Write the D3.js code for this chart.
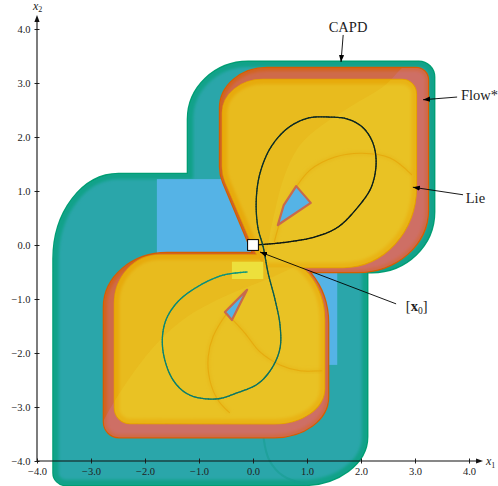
<!DOCTYPE html>
<html>
<head>
<meta charset="utf-8">
<script src="https://cdn.jsdelivr.net/npm/d3@7"></script>
<style>
  html, body { margin: 0; padding: 0; background: #fff; }
  svg { display: block; }
  text { font-family: "Liberation Serif", "DejaVu Serif", serif; fill: #222; }
</style>
</head>
<body>
<svg id="chart" width="498" height="486"></svg>
<script>
// ---- axis ticks ----
const xTicks = [-4, -3, -2, -1, 0, 1, 2, 3, 4];
const yTicks = [-4, -3, -2, -1, 0, 1, 2, 3, 4];

// ---- enclosures: vertices [x1, x2, corner radius along incoming edge, along outgoing edge] ----
const capdOutline = [
  [-1.20, 1.31, 0],
  [-1.20, 3.39, 1.06, 1.11],
  [3.35, 3.39, 0.28],
  [3.35, -0.50, 1.11, 1.15],
  [2.11, -0.50, 0],
  [2.11, -4.44, 0.89, 1.20],
  [-3.69, -4.44, 0.22],
  [-3.69, 1.31, 1.57, 1.20]
];
const capdInnerArc = [[0.19, -3.10], [0.20, -3.60], [0.30, -3.98], [0.55, -4.27], [1.00, -4.44]];

const boxRegion = [[-1.78, 1.22], [1.56, -2.22]];

const flowUpper = [
  [-0.61, 1.30, 0.15],
  [-0.61, 3.28, 0.74, 0.87],
  [3.24, 3.28, 0.22],
  [3.24, -0.50, 1.15, 1.30],
  [0.17, -0.50, 0],
  [-0.04, -0.06, 0]
];
const flowLower = [
  [-2.76, -3.56, 0.28],
  [-2.76, -0.15, 1.00, 1.17],
  [1.39, -0.15, 1.10, 1.30],
  [1.39, -3.56, 0.74, 1.00]
];
const lieUpper = [
  [-0.56, 1.30, 0.15],
  [-0.56, 3.06, 0.61, 0.74],
  [3.02, 3.06, 0.26],
  [3.02, -0.41, 1.48, 1.35],
  [0.20, -0.41, 0],
  [0.02, -0.06, 0]
];
const lieLower = [
  [-2.56, -3.30, 0.28],
  [-2.56, -0.19, 0.89, 0.83],
  [1.32, -0.19, 1.00, 1.20],
  [1.32, -3.31, 0.65, 0.93]
];

// gaps left uncovered by Lie and Flow*
const holeUpper = [[0.46, 0.37], [0.57, 0.74], [0.80, 1.09], [1.07, 0.78]];
const holeLower = [[-0.11, -0.83], [-0.52, -1.24], [-0.39, -1.39]];

// lighter sweep inside each lobe
const lensUpper = [[2.91, 3.39], [2.41, 2.93], [1.80, 2.56], [1.24, 2.19], [0.87, 1.85], [0.59, 1.30],
                   [0.41, 0.65], [0.28, 0.00], [0.22, -0.83], [3.56, -0.83], [3.56, 3.52]];
const lensLower = [[-2.76, -3.24], [-2.22, -2.37], [-1.72, -1.76], [-1.22, -1.33], [-0.67, -1.02],
                   [-0.24, -0.83], [0.32, -0.61], [0.87, -0.37], [1.52, -0.19], [1.61, -3.70], [-2.93, -3.70]];

// internal seams of the Lie enclosure
const domeArc = [[0.39, 0.04], [0.56, 0.61], [0.74, 0.98], [1.06, 1.39], [1.52, 1.63], [2.02, 1.70], [2.54, 1.61], [2.94, 1.30]];
const lowerArcA = [[-0.11, -0.83], [-0.48, -1.26], [-0.74, -1.70], [-0.83, -2.07], [-0.80, -2.50], [-0.65, -2.87], [-0.43, -3.11]];
const lowerArcB = [[-0.37, -1.39], [-0.15, -1.63], [0.13, -1.98], [0.50, -2.22], [0.87, -2.33], [1.28, -2.33]];

// final-time box
const finalBox = [[-0.39, -0.31], [0.19, -0.63]];
// initial box [x0]
const initBox = [[-0.10, 0.10], [-0.10, 0.10]];

// reference trajectory starting in [x0]
const traj = [
  [0.00, 0.00], [0.52, 0.04], [1.15, 0.15], [1.57, 0.33], [1.94, 0.70], [2.19, 1.07], [2.28, 1.52],
  [2.22, 1.89], [2.04, 2.17], [1.76, 2.33], [1.39, 2.37], [1.02, 2.35], [0.65, 2.17], [0.33, 1.81],
  [0.13, 1.33], [0.06, 0.83], [0.09, 0.33], [0.19, -0.04], [0.28, -0.52], [0.41, -1.02], [0.50, -1.48],
  [0.50, -1.91], [0.35, -2.28], [0.09, -2.57], [-0.30, -2.74], [-0.67, -2.85], [-1.17, -2.78],
  [-1.48, -2.50], [-1.67, -1.94], [-1.63, -1.44], [-1.41, -1.07], [-1.04, -0.78], [-0.56, -0.56], [-0.11, -0.50]
];

// labels with leader arrows: text anchor point, arrow start, arrow tip
const annotations = [
  { label: "CAPD",  anchor: "middle", at: [1.76, 3.95], from: [1.67, 3.89], to: [1.63, 3.39] },
  { label: "Flow*", anchor: "start",  at: [3.85, 2.69], from: [3.78, 2.74], to: [3.15, 2.69] },
  { label: "Lie",   anchor: "start",  at: [3.94, 0.78], from: [3.89, 0.93], to: [2.96, 1.07] },
  { label: "x0",    anchor: "start",  at: [2.83, -1.22], from: [2.65, -1.09], to: [0.13, -0.13] }
];

// ---- drawing ----
const svg = d3.select("#chart");
const x = d3.scaleLinear().domain([-4, 4]).range([37, 469]);
const y = d3.scaleLinear().domain([-4, 4]).range([461, 29]);
const k = x(1) - x(0);
const defs = svg.append("defs");

function roundedPath(pts) {
  const P = pts.map(p => [x(p[0]), y(p[1])]);
  const n = P.length;
  let d = "";
  for (let i = 0; i < n; i++) {
    const prev = P[(i - 1 + n) % n], cur = P[i], next = P[(i + 1) % n];
    const rIn = (pts[i][2] || 0) * k;
    const rOut = (pts[i][3] !== undefined ? pts[i][3] : (pts[i][2] || 0)) * k;
    const li = Math.hypot(cur[0] - prev[0], cur[1] - prev[1]);
    const lo = Math.hypot(next[0] - cur[0], next[1] - cur[1]);
    const ui = [(cur[0] - prev[0]) / li, (cur[1] - prev[1]) / li];
    const uo = [(next[0] - cur[0]) / lo, (next[1] - cur[1]) / lo];
    const a = [cur[0] - ui[0] * rIn, cur[1] - ui[1] * rIn];
    const b = [cur[0] + uo[0] * rOut, cur[1] + uo[1] * rOut];
    d += (i === 0 ? "M" : "L") + a[0].toFixed(2) + "," + a[1].toFixed(2);
    if (rIn > 0 || rOut > 0) {
      const c1 = [a[0] + ui[0] * rIn * 0.552, a[1] + ui[1] * rIn * 0.552];
      const c2 = [b[0] - uo[0] * rOut * 0.552, b[1] - uo[1] * rOut * 0.552];
      d += "C" + c1[0].toFixed(2) + "," + c1[1].toFixed(2) + " " + c2[0].toFixed(2) + "," + c2[1].toFixed(2) +
           " " + b[0].toFixed(2) + "," + b[1].toFixed(2);
    }
  }
  return d + "Z";
}

let clipCount = 0;
function clipFor(d) {
  const id = "clip" + (clipCount++);
  defs.append("clipPath").attr("id", id).append("path").attr("d", d);
  return "url(#" + id + ")";
}

const polyLine = d3.line().x(p => x(p[0])).y(p => y(p[1]));
const smoothLine = d3.line().x(p => x(p[0])).y(p => y(p[1])).curve(d3.curveCatmullRom.alpha(0.5));
const smoothClosed = d3.line().x(p => x(p[0])).y(p => y(p[1])).curve(d3.curveCatmullRomClosed.alpha(0.5));

// soft blur used for the inner rims of the enclosures
const soft = defs.append("filter").attr("id", "soft").attr("x", "-5%").attr("y", "-5%").attr("width", "110%").attr("height", "110%");
soft.append("feGaussianBlur").attr("stdDeviation", 1.6);

// draw an enclosure layer: outer edge, fill, soft inner rim
function drawLayer(outlines, style) {
  const g = svg.append("g");
  const ds = outlines.map(roundedPath);
  ds.forEach(d => g.append("path").attr("d", d).attr("fill", "none")
    .attr("stroke", style.edge).attr("stroke-width", style.edgeW).attr("stroke-linejoin", "round"));
  ds.forEach(d => {
    g.append("path").attr("d", d).attr("fill", style.fill);
    g.append("g").attr("clip-path", clipFor(d))
      .append("path").attr("d", d).attr("fill", "none").attr("stroke", style.rim)
      .attr("stroke-width", style.rimW).attr("stroke-opacity", style.rimO).attr("filter", "url(#soft)");
  });
  return ds;
}

// CAPD
const capdD = drawLayer([capdOutline], { edge: "#009E73", edgeW: 3, fill: "#2aa6aa", rim: "#009E73", rimW: 10, rimO: 0.6 });
svg.append("path").attr("d", smoothLine(capdInnerArc)).attr("fill", "none")
  .attr("stroke", "#139c8e").attr("stroke-width", 2).attr("stroke-opacity", 0.5);

// initial-condition region
svg.append("rect")
  .attr("x", x(boxRegion[0][0])).attr("y", y(boxRegion[0][1]))
  .attr("width", x(boxRegion[1][0]) - x(boxRegion[0][0]))
  .attr("height", y(boxRegion[1][1]) - y(boxRegion[0][1]))
  .attr("fill", "#55b3e6");

// Flow*
const flowD = drawLayer([flowLower, flowUpper], { edge: "#D55E00", edgeW: 2.5, fill: "#cf6a4a", rim: "#d55e00", rimW: 6, rimO: 0.6 });
[[lensUpper, flowD[1]], [lensLower, flowD[0]]].forEach(([lens, d]) => {
  svg.append("path").attr("d", smoothClosed(lens)).attr("fill", "#cc79a7").attr("fill-opacity", 0.3)
    .attr("clip-path", clipFor(d));
});

// Lie
const lieD = drawLayer([lieLower, lieUpper], { edge: "#E69F00", edgeW: 2, fill: "#e8bb1e", rim: "#e69f00", rimW: 9, rimO: 0.6 });
[[lensUpper, lieD[1]], [lensLower, lieD[0]]].forEach(([lens, d]) => {
  svg.append("path").attr("d", smoothClosed(lens)).attr("fill", "#f0e442").attr("fill-opacity", 0.16)
    .attr("clip-path", clipFor(d));
});
// internal seams
const seamClipUpper = clipFor(lieD[1]);
const seamClipLower = clipFor(lieD[0]);
[[domeArc, seamClipUpper], [lowerArcA, seamClipLower], [lowerArcB, seamClipLower]].forEach(([arc, clip]) => {
  const g = svg.append("g").attr("clip-path", clip);
  g.append("path").attr("d", smoothLine(arc)).attr("fill", "none")
    .attr("stroke", "#e69f00").attr("stroke-width", 5).attr("stroke-opacity", 0.18).attr("filter", "url(#soft)");
  g.append("path").attr("d", smoothLine(arc)).attr("fill", "none")
    .attr("stroke", "#e39a00").attr("stroke-width", 1.1).attr("stroke-opacity", 0.55);
});

// uncovered gaps
[holeUpper, holeLower].forEach(h => {
  svg.append("path").attr("d", polyLine(h) + "Z").attr("fill", "#55b3e6")
    .attr("stroke", "#c86a4c").attr("stroke-width", 2.2).attr("stroke-linejoin", "round");
});

// final box
svg.append("rect")
  .attr("x", x(finalBox[0][0])).attr("y", y(finalBox[0][1]))
  .attr("width", x(finalBox[1][0]) - x(finalBox[0][0]))
  .attr("height", y(finalBox[1][1]) - y(finalBox[0][1]))
  .attr("fill", "#ede03c");

// trajectory, coloured by time
const trajPath = svg.append("path").attr("d", smoothLine(traj)).attr("fill", "none").attr("stroke", "none");
const node = trajPath.node();
const total = node.getTotalLength();
const N = 500;
const samples = d3.range(N + 1).map(i => node.getPointAtLength(total * i / N));
const timeColour = d3.scaleLinear().domain([0, 0.45, 0.6, 1])
  .range(["#0b1513", "#0b302b", "#0b6a5b", "#0a9580"]).interpolate(d3.interpolateRgb);
const trajG = svg.append("g");
for (let i = 0; i < N; i++) {
  trajG.append("line")
    .attr("x1", samples[i].x).attr("y1", samples[i].y)
    .attr("x2", samples[i + 1].x).attr("y2", samples[i + 1].y)
    .attr("stroke", timeColour(i / N)).attr("stroke-width", 1.3).attr("stroke-linecap", "round");
}

// initial box [x0]
svg.append("rect")
  .attr("x", x(initBox[0][0])).attr("y", y(initBox[1][1]))
  .attr("width", x(initBox[0][1]) - x(initBox[0][0]))
  .attr("height", y(initBox[1][0]) - y(initBox[1][1]))
  .attr("fill", "#fff").attr("stroke", "#000").attr("stroke-width", 1);

// ---- axes ----
const fmt = d3.format(".1f");
const axisG = svg.append("g");
const xAxis = d3.axisBottom(x).tickValues(xTicks).tickFormat(fmt).tickSizeInner(2.5).tickSizeOuter(0).tickPadding(4);
const yAxis = d3.axisLeft(y).tickValues(yTicks).tickFormat(fmt).tickSizeInner(2.5).tickSizeOuter(0).tickPadding(4);
const gx = axisG.append("g").attr("transform", "translate(0," + y(-4) + ")").call(xAxis);
const gy = axisG.append("g").attr("transform", "translate(" + x(-4) + ",0)").call(yAxis);
[gx, gy].forEach(g => {
  g.attr("font-family", null);
  g.select(".domain").remove();
  g.selectAll("text").style("font-family", "'Liberation Serif', serif").style("font-size", "10.5px").attr("fill", "#333");
  g.selectAll("line").attr("stroke", "#222");
});
gx.selectAll(".tick line").attr("y1", -2.5);
gy.selectAll(".tick line").attr("x1", 2.5);

const xEnd = 4.26, yEnd = 4.26;
axisG.append("line").attr("x1", x(-4)).attr("y1", y(-4)).attr("x2", x(xEnd) - 4).attr("y2", y(-4))
  .attr("stroke", "#111").attr("stroke-width", 1.1);
axisG.append("line").attr("x1", x(-4)).attr("y1", y(-4)).attr("x2", x(-4)).attr("y2", y(yEnd) + 4)
  .attr("stroke", "#111").attr("stroke-width", 1.1);
axisG.append("path")
  .attr("d", `M${x(xEnd)},${y(-4)} L${x(xEnd) - 7},${y(-4) - 2.6} L${x(xEnd) - 7},${y(-4) + 2.6} Z`).attr("fill", "#111");
axisG.append("path")
  .attr("d", `M${x(-4)},${y(yEnd)} L${x(-4) - 2.6},${y(yEnd) + 7} L${x(-4) + 2.6},${y(yEnd) + 7} Z`).attr("fill", "#111");

const x1Label = axisG.append("text").attr("x", x(xEnd) + 3).attr("y", y(-4) + 4)
  .style("font-size", "12px").attr("fill", "#333");
x1Label.append("tspan").style("font-style", "italic").text("x");
x1Label.append("tspan").attr("dy", 2.5).style("font-size", "8px").text("1");
const x2Label = axisG.append("text").attr("x", x(-4) - 4).attr("y", y(yEnd) - 5)
  .style("font-size", "12px").attr("fill", "#333");
x2Label.append("tspan").style("font-style", "italic").text("x");
x2Label.append("tspan").attr("dy", 2.5).style("font-size", "8px").text("2");

// ---- annotations ----
defs.append("marker").attr("id", "tip").attr("viewBox", "0 0 8 6").attr("refX", 8).attr("refY", 3)
  .attr("markerWidth", 7).attr("markerHeight", 5.5).attr("markerUnits", "userSpaceOnUse").attr("orient", "auto")
  .append("path").attr("d", "M0,0 L8,3 L0,6 Z").attr("fill", "#000");

annotations.forEach(a => {
  svg.append("line")
    .attr("x1", x(a.from[0])).attr("y1", y(a.from[1]))
    .attr("x2", x(a.to[0])).attr("y2", y(a.to[1]))
    .attr("stroke", "#000").attr("stroke-width", 0.9).attr("marker-end", "url(#tip)");
  const t = svg.append("text").attr("x", x(a.at[0])).attr("y", y(a.at[1]))
    .attr("text-anchor", a.anchor).style("font-size", "14.5px");
  if (a.label === "x0") {
    t.append("tspan").text("[");
    t.append("tspan").style("font-weight", "bold").text("x");
    t.append("tspan").attr("dy", 3).style("font-size", "9.5px").text("0");
    t.append("tspan").attr("dy", -3).text("]");
  } else {
    t.text(a.label);
  }
});
</script>
</body>
</html>
